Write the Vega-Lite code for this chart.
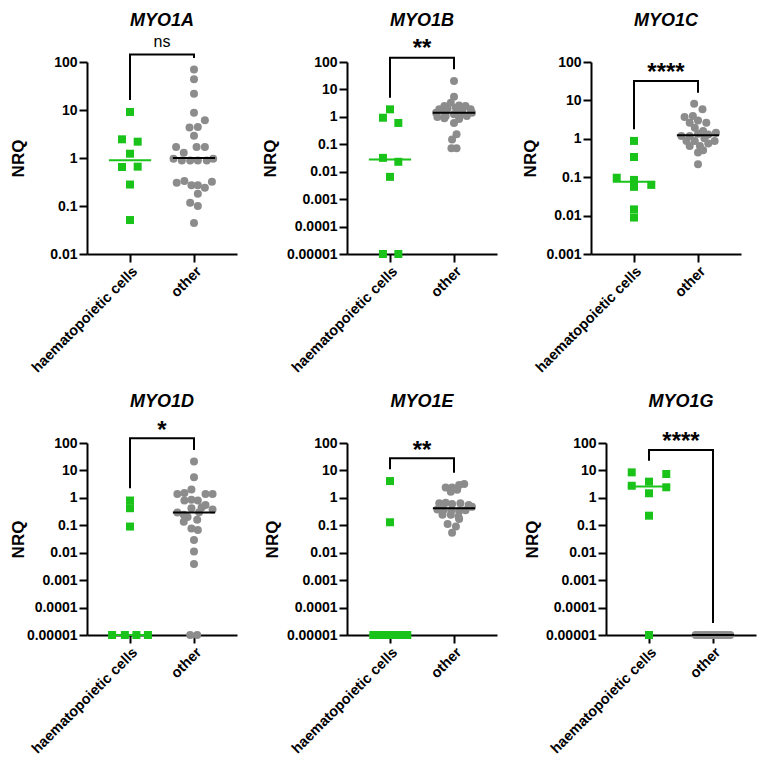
{
"$schema":"https://vega.github.io/schema/vega-lite/v6.json",
"padding":{"left":9,"top":11,"right":5,"bottom":5},
"config":{"font":"Liberation Sans","view":{"stroke":null},
 "axis":{"grid":false,"domainColor":"black","domainWidth":2,"tickColor":"black","tickWidth":2,"tickSize":8,"labelFont":"Liberation Sans","labelFontWeight":"bold","labelFontSize":14,"labelColor":"black","labelPadding":2,"titleFont":"Liberation Sans","titleFontWeight":"bold","titleFontSize":17,"titleColor":"black"},
 "title":{"font":"Liberation Sans","fontSize":18,"fontWeight":"bold","fontStyle":"italic","color":"black","anchor":"middle","frame":"group"}},
"datasets":{
"pts":[
{"p":"A","g":"h","x":0,"v":9.1},{"p":"A","g":"h","x":-0.125,"v":2.45},{"p":"A","g":"h","x":0.12,"v":2.19},{"p":"A","g":"h","x":0,"v":1.23},{"p":"A","g":"h","x":-0.125,"v":0.65},{"p":"A","g":"h","x":0.12,"v":0.66},{"p":"A","g":"h","x":0,"v":0.28},{"p":"A","g":"h","x":0,"v":0.051},
{"p":"A","g":"o","x":1,"v":70},{"p":"A","g":"o","x":1,"v":43.5},{"p":"A","g":"o","x":1,"v":21.9},{"p":"A","g":"o","x":1,"v":8.8},{"p":"A","g":"o","x":1.17,"v":6.1},{"p":"A","g":"o","x":0.93,"v":4.3},{"p":"A","g":"o","x":1.06,"v":4.4},{"p":"A","g":"o","x":1,"v":2.9},{"p":"A","g":"o","x":0.72,"v":1.7},{"p":"A","g":"o","x":0.84,"v":1.29},{"p":"A","g":"o","x":1.04,"v":1.7},{"p":"A","g":"o","x":1.17,"v":1.7},{"p":"A","g":"o","x":0.68,"v":0.97},{"p":"A","g":"o","x":0.81,"v":0.89},{"p":"A","g":"o","x":0.94,"v":0.89},{"p":"A","g":"o","x":1.06,"v":0.89},{"p":"A","g":"o","x":1.2,"v":0.89},{"p":"A","g":"o","x":1.3,"v":0.97},{"p":"A","g":"o","x":0.73,"v":0.306},{"p":"A","g":"o","x":0.85,"v":0.33},{"p":"A","g":"o","x":0.96,"v":0.27},{"p":"A","g":"o","x":1.06,"v":0.27},{"p":"A","g":"o","x":1.17,"v":0.24},{"p":"A","g":"o","x":1.28,"v":0.32},{"p":"A","g":"o","x":1.06,"v":0.18},{"p":"A","g":"o","x":0.94,"v":0.117},{"p":"A","g":"o","x":1.06,"v":0.1},{"p":"A","g":"o","x":1,"v":0.044},
{"p":"B","g":"h","x":0,"v":1.88},{"p":"B","g":"h","x":-0.11,"v":0.93},{"p":"B","g":"h","x":0.13,"v":0.6},{"p":"B","g":"h","x":-0.11,"v":0.032},{"p":"B","g":"h","x":0.13,"v":0.023},{"p":"B","g":"h","x":0,"v":0.0065},{"p":"B","g":"h","x":-0.11,"v":0.00001},{"p":"B","g":"h","x":0.13,"v":0.00001},
{"p":"B","g":"o","x":1,"v":20.3},{"p":"B","g":"o","x":1,"v":5.4},{"p":"B","g":"o","x":0.95,"v":3.3},{"p":"B","g":"o","x":0.85,"v":2.5},{"p":"B","g":"o","x":1.08,"v":2.6},{"p":"B","g":"o","x":1.18,"v":2.5},{"p":"B","g":"o","x":0.77,"v":1.88},{"p":"B","g":"o","x":0.9,"v":2.0},{"p":"B","g":"o","x":1.03,"v":2.16},{"p":"B","g":"o","x":1.26,"v":1.88},{"p":"B","g":"o","x":0.72,"v":1.42},{"p":"B","g":"o","x":0.85,"v":1.5},{"p":"B","g":"o","x":1.13,"v":1.64},{"p":"B","g":"o","x":1.28,"v":1.42},{"p":"B","g":"o","x":0.74,"v":0.99},{"p":"B","g":"o","x":0.87,"v":1.07},{"p":"B","g":"o","x":1.0,"v":1.24},{"p":"B","g":"o","x":1.1,"v":1.24},{"p":"B","g":"o","x":1.2,"v":1.07},{"p":"B","g":"o","x":0.85,"v":0.89},{"p":"B","g":"o","x":1.08,"v":0.83},{"p":"B","g":"o","x":1,"v":0.6},{"p":"B","g":"o","x":1.04,"v":0.23},{"p":"B","g":"o","x":0.97,"v":0.15},{"p":"B","g":"o","x":0.96,"v":0.071},{"p":"B","g":"o","x":1.04,"v":0.071},
{"p":"C","g":"h","x":0,"v":0.88},{"p":"C","g":"h","x":0,"v":0.336},{"p":"C","g":"h","x":-0.27,"v":0.097},{"p":"C","g":"h","x":0,"v":0.085},{"p":"C","g":"h","x":0,"v":0.056},{"p":"C","g":"h","x":0.27,"v":0.063},{"p":"C","g":"h","x":0,"v":0.0145},{"p":"C","g":"h","x":0,"v":0.0089},
{"p":"C","g":"o","x":0.94,"v":8.2},{"p":"C","g":"o","x":1.07,"v":5.9},{"p":"C","g":"o","x":0.92,"v":3.9},{"p":"C","g":"o","x":0.79,"v":3.7},{"p":"C","g":"o","x":0.87,"v":2.6},{"p":"C","g":"o","x":1.0,"v":3.0},{"p":"C","g":"o","x":1.13,"v":2.6},{"p":"C","g":"o","x":0.95,"v":1.95},{"p":"C","g":"o","x":1.08,"v":1.6},{"p":"C","g":"o","x":0.74,"v":1.18},{"p":"C","g":"o","x":0.87,"v":1.18},{"p":"C","g":"o","x":1.0,"v":1.36},{"p":"C","g":"o","x":1.16,"v":1.3},{"p":"C","g":"o","x":1.28,"v":1.44},{"p":"C","g":"o","x":0.82,"v":0.88},{"p":"C","g":"o","x":0.95,"v":0.88},{"p":"C","g":"o","x":1.1,"v":1.03},{"p":"C","g":"o","x":1.26,"v":0.88},{"p":"C","g":"o","x":0.87,"v":0.65},{"p":"C","g":"o","x":1.03,"v":0.65},{"p":"C","g":"o","x":1.16,"v":0.75},{"p":"C","g":"o","x":1.0,"v":0.44},{"p":"C","g":"o","x":1.0,"v":0.216},{"p":"C","g":"o","x":1.08,"v":0.5},
{"p":"D","g":"h","x":0,"v":0.8},{"p":"D","g":"h","x":0,"v":0.42},{"p":"D","g":"h","x":0,"v":0.09},{"p":"D","g":"h","x":-0.28,"v":0.00001},{"p":"D","g":"h","x":-0.08,"v":0.00001},{"p":"D","g":"h","x":0.1,"v":0.00001},{"p":"D","g":"h","x":0.28,"v":0.00001},
{"p":"D","g":"o","x":1,"v":21},{"p":"D","g":"o","x":1,"v":5.6},{"p":"D","g":"o","x":0.74,"v":1.38},{"p":"D","g":"o","x":0.85,"v":1.5},{"p":"D","g":"o","x":0.96,"v":2.0},{"p":"D","g":"o","x":1.18,"v":1.38},{"p":"D","g":"o","x":1.29,"v":1.38},{"p":"D","g":"o","x":0.85,"v":0.8},{"p":"D","g":"o","x":0.96,"v":0.85},{"p":"D","g":"o","x":1.06,"v":0.8},{"p":"D","g":"o","x":1.18,"v":0.55},{"p":"D","g":"o","x":1.29,"v":0.38},{"p":"D","g":"o","x":1.08,"v":0.3},{"p":"D","g":"o","x":0.96,"v":0.42},{"p":"D","g":"o","x":0.84,"v":0.24},{"p":"D","g":"o","x":0.74,"v":0.29},{"p":"D","g":"o","x":0.84,"v":0.134},{"p":"D","g":"o","x":0.96,"v":0.077},{"p":"D","g":"o","x":1.06,"v":0.067},{"p":"D","g":"o","x":1,"v":0.029},{"p":"D","g":"o","x":1,"v":0.011},{"p":"D","g":"o","x":1,"v":0.0039},{"p":"D","g":"o","x":0.94,"v":0.00001},{"p":"D","g":"o","x":1.05,"v":0.00001},{"p":"D","g":"o","x":1.12,"v":0.45},{"p":"D","g":"o","x":0.9,"v":0.2},{"p":"D","g":"o","x":1.05,"v":0.16},
{"p":"E","g":"h","x":0,"v":4.1},{"p":"E","g":"h","x":0,"v":0.129},{"p":"E","g":"h","x":-0.26,"v":0.00001},{"p":"E","g":"h","x":-0.15,"v":0.00001},{"p":"E","g":"h","x":-0.05,"v":0.00001},{"p":"E","g":"h","x":0.05,"v":0.00001},{"p":"E","g":"h","x":0.16,"v":0.00001},{"p":"E","g":"h","x":0.27,"v":0.00001},
{"p":"E","g":"o","x":0.87,"v":2.4},{"p":"E","g":"o","x":0.97,"v":2.4},{"p":"E","g":"o","x":1.08,"v":2.95},{"p":"E","g":"o","x":1.16,"v":3.2},{"p":"E","g":"o","x":1.05,"v":1.96},{"p":"E","g":"o","x":0.95,"v":1.68},{"p":"E","g":"o","x":0.77,"v":0.63},{"p":"E","g":"o","x":0.87,"v":0.66},{"p":"E","g":"o","x":0.97,"v":0.6},{"p":"E","g":"o","x":1.1,"v":0.63},{"p":"E","g":"o","x":1.23,"v":0.55},{"p":"E","g":"o","x":1.28,"v":0.47},{"p":"E","g":"o","x":0.74,"v":0.38},{"p":"E","g":"o","x":0.84,"v":0.37},{"p":"E","g":"o","x":0.96,"v":0.35},{"p":"E","g":"o","x":1.08,"v":0.33},{"p":"E","g":"o","x":1.18,"v":0.35},{"p":"E","g":"o","x":0.82,"v":0.24},{"p":"E","g":"o","x":0.95,"v":0.24},{"p":"E","g":"o","x":1.07,"v":0.21},{"p":"E","g":"o","x":0.9,"v":0.112},{"p":"E","g":"o","x":1.03,"v":0.09},{"p":"E","g":"o","x":0.97,"v":0.054},{"p":"E","g":"o","x":1.08,"v":0.17},
{"p":"G","g":"h","x":-0.27,"v":8.5},{"p":"G","g":"h","x":0.27,"v":7.4},{"p":"G","g":"h","x":-0.27,"v":2.76},{"p":"G","g":"h","x":0,"v":3.9},{"p":"G","g":"h","x":0.27,"v":2.43},{"p":"G","g":"h","x":0,"v":1.47},{"p":"G","g":"h","x":0,"v":0.224},{"p":"G","g":"h","x":0,"v":0.00001},
{"p":"G","g":"o","x":0.73,"v":0.00001},{"p":"G","g":"o","x":0.78,"v":0.00001},{"p":"G","g":"o","x":0.83,"v":0.00001},{"p":"G","g":"o","x":0.88,"v":0.00001},{"p":"G","g":"o","x":0.93,"v":0.00001},{"p":"G","g":"o","x":0.98,"v":0.00001},{"p":"G","g":"o","x":1.02,"v":0.00001},{"p":"G","g":"o","x":1.07,"v":0.00001},{"p":"G","g":"o","x":1.12,"v":0.00001},{"p":"G","g":"o","x":1.17,"v":0.00001},{"p":"G","g":"o","x":1.22,"v":0.00001},{"p":"G","g":"o","x":1.27,"v":0.00001}
],
"med":[
{"p":"A","g":"h","a":-0.33,"b":0.33,"m":0.9},{"p":"A","g":"o","a":0.67,"b":1.33,"m":1.0},
{"p":"B","g":"h","a":-0.33,"b":0.33,"m":0.028},{"p":"B","g":"o","a":0.67,"b":1.33,"m":1.42},
{"p":"C","g":"h","a":-0.33,"b":0.33,"m":0.076},{"p":"C","g":"o","a":0.67,"b":1.33,"m":1.23},
{"p":"D","g":"h","a":-0.33,"b":0.33,"m":0.00001},{"p":"D","g":"o","a":0.67,"b":1.33,"m":0.29},
{"p":"E","g":"h","a":-0.33,"b":0.33,"m":0.00001},{"p":"E","g":"o","a":0.67,"b":1.33,"m":0.42},
{"p":"G","g":"h","a":-0.33,"b":0.33,"m":2.6},{"p":"G","g":"o","a":0.67,"b":1.33,"m":0.00001}
],
"brk":[
{"p":"A","o":1,"x":0,"y":16.2},{"p":"A","o":2,"x":0,"y":143},{"p":"A","o":3,"x":1,"y":143},{"p":"A","o":4,"x":1,"y":121},
{"p":"B","o":1,"x":0,"y":5.0},{"p":"B","o":2,"x":0,"y":143},{"p":"B","o":3,"x":1,"y":143},{"p":"B","o":4,"x":1,"y":54},
{"p":"C","o":1,"x":0,"y":1.77},{"p":"C","o":2,"x":0,"y":32},{"p":"C","o":3,"x":1,"y":32},{"p":"C","o":4,"x":1,"y":15.9},
{"p":"D","o":1,"x":0,"y":2.23},{"p":"D","o":2,"x":0,"y":148},{"p":"D","o":3,"x":1,"y":148},{"p":"D","o":4,"x":1,"y":55.6},
{"p":"E","o":1,"x":0,"y":11},{"p":"E","o":2,"x":0,"y":27.7},{"p":"E","o":3,"x":1,"y":27.7},{"p":"E","o":4,"x":1,"y":8.3},
{"p":"G","o":1,"x":0,"y":22.6},{"p":"G","o":2,"x":0,"y":55.6},{"p":"G","o":3,"x":1,"y":55.6},{"p":"G","o":4,"x":1,"y":0.0000274}
],
"sig":[
{"p":"A","x":0.5,"y":205,"t":"ns"},{"p":"B","x":0.5,"y":161,"t":"**"},{"p":"C","x":0.5,"y":33.3,"t":"****"},
{"p":"D","x":0.5,"y":157,"t":"*"},{"p":"E","x":0.5,"y":29.4,"t":"**"},{"p":"G","x":0.5,"y":62.5,"t":"****"}
]},
"vconcat":[
{"hconcat":[
{"width":150,"height":192,"title":{"text":"MYO1A","offset":4},
 "layer":[
 {"data":{"name":"pts"},"transform":[{"filter":"datum.p==='A'"}],"mark":{"type":"point","filled":true,"opacity":1,"size":64},
  "encoding":{"x":{"field":"x","type":"quantitative","title":null,"scale":{"domain":[-0.672,1.672],"nice":false,"zero":false},"axis":{"values":[0,1],"labelExpr":"datum.value===0?'haematopoietic cells':'other'","labelAngle":-45,"labelFontSize":14.5}},
   "y":{"field":"v","type":"quantitative","title":"NRQ","scale":{"type":"log","domain":[0.01,100]},"axis":{"values":[0.01,0.1,1,10,100],"labelExpr":"toString(datum.value)","titlePadding":22}},
   "fill":{"field":"g","type":"nominal","scale":{"domain":["h","o"],"range":["#19C319","#8C8C8C"]},"legend":null},
   "shape":{"field":"g","type":"nominal","scale":{"domain":["h","o"],"range":["square","circle"]},"legend":null}}},
 {"data":{"name":"med"},"transform":[{"filter":"datum.p==='A'"}],"mark":{"type":"rule","strokeWidth":2},
  "encoding":{"x":{"field":"a","type":"quantitative","title":null},"x2":{"field":"b"},"y":{"field":"m","type":"quantitative","title":"NRQ"},
   "stroke":{"field":"g","type":"nominal","scale":{"domain":["h","o"],"range":["#19C319","#000000"]},"legend":null}}},
 {"data":{"name":"brk"},"transform":[{"filter":"datum.p==='A'"}],"mark":{"type":"line","color":"black","strokeWidth":2},
  "encoding":{"x":{"field":"x","type":"quantitative","title":null},"y":{"field":"y","type":"quantitative","title":"NRQ"},"order":{"field":"o"}}},
 {"data":{"name":"sig"},"transform":[{"filter":"datum.p==='A'"}],"mark":{"type":"text","fontSize":16,"font":"Liberation Sans","color":"black","baseline":"alphabetic"},
  "encoding":{"x":{"field":"x","type":"quantitative","title":null},"y":{"field":"y","type":"quantitative","title":"NRQ"},"text":{"field":"t"}}}
 ]},
{"width":150,"height":192,"title":{"text":"MYO1B","offset":7.5},
 "layer":[
 {"data":{"name":"pts"},"transform":[{"filter":"datum.p==='B'"}],"mark":{"type":"point","filled":true,"opacity":1,"size":64},
  "encoding":{"x":{"field":"x","type":"quantitative","title":null,"scale":{"domain":[-0.672,1.672],"nice":false,"zero":false},"axis":{"values":[0,1],"labelExpr":"datum.value===0?'haematopoietic cells':'other'","labelAngle":-45,"labelFontSize":14.5}},
   "y":{"field":"v","type":"quantitative","title":"NRQ","scale":{"type":"log","domain":[0.00001,100]},"axis":{"values":[0.00001,0.0001,0.001,0.01,0.1,1,10,100],"labelExpr":"toString(datum.value)","titlePadding":6.7}},
   "fill":{"field":"g","type":"nominal","scale":{"domain":["h","o"],"range":["#19C319","#8C8C8C"]},"legend":null},
   "shape":{"field":"g","type":"nominal","scale":{"domain":["h","o"],"range":["square","circle"]},"legend":null}}},
 {"data":{"name":"med"},"transform":[{"filter":"datum.p==='B'"}],"mark":{"type":"rule","strokeWidth":2},
  "encoding":{"x":{"field":"a","type":"quantitative","title":null},"x2":{"field":"b"},"y":{"field":"m","type":"quantitative","title":"NRQ"},
   "stroke":{"field":"g","type":"nominal","scale":{"domain":["h","o"],"range":["#19C319","#000000"]},"legend":null}}},
 {"data":{"name":"brk"},"transform":[{"filter":"datum.p==='B'"}],"mark":{"type":"line","color":"black","strokeWidth":2},
  "encoding":{"x":{"field":"x","type":"quantitative","title":null},"y":{"field":"y","type":"quantitative","title":"NRQ"},"order":{"field":"o"}}},
 {"data":{"name":"sig"},"transform":[{"filter":"datum.p==='B'"}],"mark":{"type":"text","fontSize":24,"fontWeight":"bold","font":"Liberation Sans","color":"black","baseline":"alphabetic"},
  "encoding":{"x":{"field":"x","type":"quantitative","title":null},"y":{"field":"y","type":"quantitative","title":"NRQ"},"text":{"field":"t"}}}
 ]},
{"width":150,"height":192,"title":{"text":"MYO1C","offset":25.2},
 "layer":[
 {"data":{"name":"pts"},"transform":[{"filter":"datum.p==='C'"}],"mark":{"type":"point","filled":true,"opacity":1,"size":64},
  "encoding":{"x":{"field":"x","type":"quantitative","title":null,"scale":{"domain":[-0.672,1.672],"nice":false,"zero":false},"axis":{"values":[0,1],"labelExpr":"datum.value===0?'haematopoietic cells':'other'","labelAngle":-45,"labelFontSize":14.5}},
   "y":{"field":"v","type":"quantitative","title":"NRQ","scale":{"type":"log","domain":[0.001,100]},"axis":{"values":[0.001,0.01,0.1,1,10,100],"labelExpr":"toString(datum.value)","titlePadding":6.3}},
   "fill":{"field":"g","type":"nominal","scale":{"domain":["h","o"],"range":["#19C319","#8C8C8C"]},"legend":null},
   "shape":{"field":"g","type":"nominal","scale":{"domain":["h","o"],"range":["square","circle"]},"legend":null}}},
 {"data":{"name":"med"},"transform":[{"filter":"datum.p==='C'"}],"mark":{"type":"rule","strokeWidth":2},
  "encoding":{"x":{"field":"a","type":"quantitative","title":null},"x2":{"field":"b"},"y":{"field":"m","type":"quantitative","title":"NRQ"},
   "stroke":{"field":"g","type":"nominal","scale":{"domain":["h","o"],"range":["#19C319","#000000"]},"legend":null}}},
 {"data":{"name":"brk"},"transform":[{"filter":"datum.p==='C'"}],"mark":{"type":"line","color":"black","strokeWidth":2},
  "encoding":{"x":{"field":"x","type":"quantitative","title":null},"y":{"field":"y","type":"quantitative","title":"NRQ"},"order":{"field":"o"}}},
 {"data":{"name":"sig"},"transform":[{"filter":"datum.p==='C'"}],"mark":{"type":"text","fontSize":24,"fontWeight":"bold","font":"Liberation Sans","color":"black","baseline":"alphabetic"},
  "encoding":{"x":{"field":"x","type":"quantitative","title":null},"y":{"field":"y","type":"quantitative","title":"NRQ"},"text":{"field":"t"}}}
 ]}
],"spacing":24},
{"hconcat":[
{"width":150,"height":192,"title":{"text":"MYO1D","offset":7.8},
 "layer":[
 {"data":{"name":"pts"},"transform":[{"filter":"datum.p==='D'"}],"mark":{"type":"point","filled":true,"opacity":1,"size":64},
  "encoding":{"x":{"field":"x","type":"quantitative","title":null,"scale":{"domain":[-0.672,1.672],"nice":false,"zero":false},"axis":{"values":[0,1],"labelExpr":"datum.value===0?'haematopoietic cells':'other'","labelAngle":-45,"labelFontSize":14.5}},
   "y":{"field":"v","type":"quantitative","title":"NRQ","scale":{"type":"log","domain":[0.00001,100]},"axis":{"values":[0.00001,0.0001,0.001,0.01,0.1,1,10,100],"labelExpr":"toString(datum.value)","titlePadding":-1.3}},
   "fill":{"field":"g","type":"nominal","scale":{"domain":["h","o"],"range":["#19C319","#8C8C8C"]},"legend":null},
   "shape":{"field":"g","type":"nominal","scale":{"domain":["h","o"],"range":["square","circle"]},"legend":null}}},
 {"data":{"name":"med"},"transform":[{"filter":"datum.p==='D'"}],"mark":{"type":"rule","strokeWidth":2},
  "encoding":{"x":{"field":"a","type":"quantitative","title":null},"x2":{"field":"b"},"y":{"field":"m","type":"quantitative","title":"NRQ"},
   "stroke":{"field":"g","type":"nominal","scale":{"domain":["h","o"],"range":["#19C319","#000000"]},"legend":null}}},
 {"data":{"name":"brk"},"transform":[{"filter":"datum.p==='D'"}],"mark":{"type":"line","color":"black","strokeWidth":2},
  "encoding":{"x":{"field":"x","type":"quantitative","title":null},"y":{"field":"y","type":"quantitative","title":"NRQ"},"order":{"field":"o"}}},
 {"data":{"name":"sig"},"transform":[{"filter":"datum.p==='D'"}],"mark":{"type":"text","fontSize":24,"fontWeight":"bold","font":"Liberation Sans","color":"black","baseline":"alphabetic"},
  "encoding":{"x":{"field":"x","type":"quantitative","title":null},"y":{"field":"y","type":"quantitative","title":"NRQ"},"text":{"field":"t"}}}
 ]},
{"width":150,"height":192,"title":{"text":"MYO1E","offset":25.2},
 "layer":[
 {"data":{"name":"pts"},"transform":[{"filter":"datum.p==='E'"}],"mark":{"type":"point","filled":true,"opacity":1,"size":64},
  "encoding":{"x":{"field":"x","type":"quantitative","title":null,"scale":{"domain":[-0.672,1.672],"nice":false,"zero":false},"axis":{"values":[0,1],"labelExpr":"datum.value===0?'haematopoietic cells':'other'","labelAngle":-45,"labelFontSize":14.5}},
   "y":{"field":"v","type":"quantitative","title":"NRQ","scale":{"type":"log","domain":[0.00001,100]},"axis":{"values":[0.00001,0.0001,0.001,0.01,0.1,1,10,100],"labelExpr":"toString(datum.value)","titlePadding":4.7}},
   "fill":{"field":"g","type":"nominal","scale":{"domain":["h","o"],"range":["#19C319","#8C8C8C"]},"legend":null},
   "shape":{"field":"g","type":"nominal","scale":{"domain":["h","o"],"range":["square","circle"]},"legend":null}}},
 {"data":{"name":"med"},"transform":[{"filter":"datum.p==='E'"}],"mark":{"type":"rule","strokeWidth":2},
  "encoding":{"x":{"field":"a","type":"quantitative","title":null},"x2":{"field":"b"},"y":{"field":"m","type":"quantitative","title":"NRQ"},
   "stroke":{"field":"g","type":"nominal","scale":{"domain":["h","o"],"range":["#19C319","#000000"]},"legend":null}}},
 {"data":{"name":"brk"},"transform":[{"filter":"datum.p==='E'"}],"mark":{"type":"line","color":"black","strokeWidth":2},
  "encoding":{"x":{"field":"x","type":"quantitative","title":null},"y":{"field":"y","type":"quantitative","title":"NRQ"},"order":{"field":"o"}}},
 {"data":{"name":"sig"},"transform":[{"filter":"datum.p==='E'"}],"mark":{"type":"text","fontSize":24,"fontWeight":"bold","font":"Liberation Sans","color":"black","baseline":"alphabetic"},
  "encoding":{"x":{"field":"x","type":"quantitative","title":null},"y":{"field":"y","type":"quantitative","title":"NRQ"},"text":{"field":"t"}}}
 ]},
{"width":150,"height":192,"title":{"text":"MYO1G","offset":18.8},
 "layer":[
 {"data":{"name":"pts"},"transform":[{"filter":"datum.p==='G'"}],"mark":{"type":"point","filled":true,"opacity":1,"size":64},
  "encoding":{"x":{"field":"x","type":"quantitative","title":null,"scale":{"domain":[-0.672,1.672],"nice":false,"zero":false},"axis":{"values":[0,1],"labelExpr":"datum.value===0?'haematopoietic cells':'other'","labelAngle":-45,"labelFontSize":14.5}},
   "y":{"field":"v","type":"quantitative","title":"NRQ","scale":{"type":"log","domain":[0.00001,100]},"axis":{"values":[0.00001,0.0001,0.001,0.01,0.1,1,10,100],"labelExpr":"toString(datum.value)","titlePadding":3.7}},
   "fill":{"field":"g","type":"nominal","scale":{"domain":["h","o"],"range":["#19C319","#8C8C8C"]},"legend":null},
   "shape":{"field":"g","type":"nominal","scale":{"domain":["h","o"],"range":["square","circle"]},"legend":null}}},
 {"data":{"name":"med"},"transform":[{"filter":"datum.p==='G'"}],"mark":{"type":"rule","strokeWidth":2},
  "encoding":{"x":{"field":"a","type":"quantitative","title":null},"x2":{"field":"b"},"y":{"field":"m","type":"quantitative","title":"NRQ"},
   "stroke":{"field":"g","type":"nominal","scale":{"domain":["h","o"],"range":["#19C319","#000000"]},"legend":null}}},
 {"data":{"name":"brk"},"transform":[{"filter":"datum.p==='G'"}],"mark":{"type":"line","color":"black","strokeWidth":2},
  "encoding":{"x":{"field":"x","type":"quantitative","title":null},"y":{"field":"y","type":"quantitative","title":"NRQ"},"order":{"field":"o"}}},
 {"data":{"name":"sig"},"transform":[{"filter":"datum.p==='G'"}],"mark":{"type":"text","fontSize":24,"fontWeight":"bold","font":"Liberation Sans","color":"black","baseline":"alphabetic"},
  "encoding":{"x":{"field":"x","type":"quantitative","title":null},"y":{"field":"y","type":"quantitative","title":"NRQ"},"text":{"field":"t"}}}
 ]}
],"spacing":26}
],"spacing":17}
